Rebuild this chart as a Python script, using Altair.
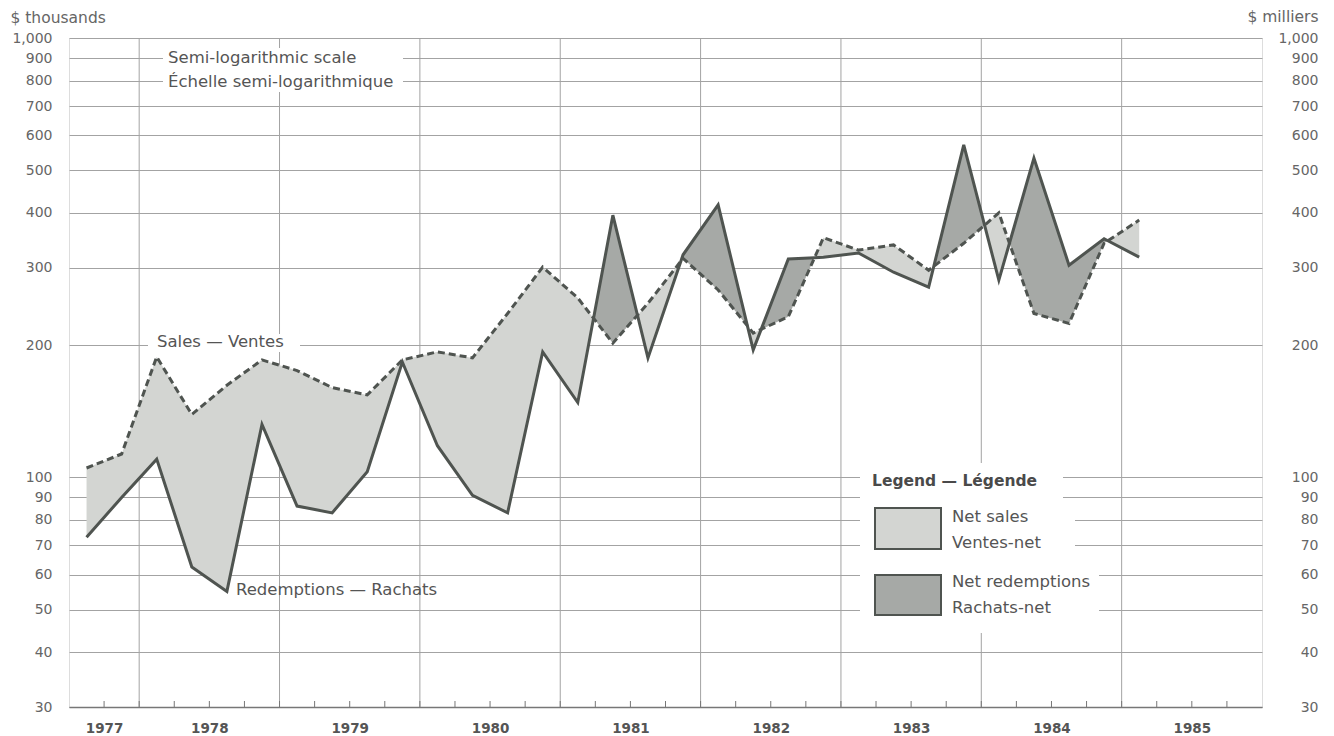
import math
import altair as alt
import pandas as pd
import numpy as np

FONT = "DejaVu Sans"
TXT = "#555555"
LINE = "#4f5450"
LIGHT = "#d3d5d2"
DARK = "#a6a9a6"
GRID = "#a3a3a3"

# ---- data ----
quarters = [
    "1977 Q3", "1977 Q4",
    "1978 Q1", "1978 Q2", "1978 Q3", "1978 Q4",
    "1979 Q1", "1979 Q2", "1979 Q3", "1979 Q4",
    "1980 Q1", "1980 Q2", "1980 Q3", "1980 Q4",
    "1981 Q1", "1981 Q2", "1981 Q3", "1981 Q4",
    "1982 Q1", "1982 Q2", "1982 Q3", "1982 Q4",
    "1983 Q1", "1983 Q2", "1983 Q3", "1983 Q4",
    "1984 Q1", "1984 Q2", "1984 Q3", "1984 Q4",
    "1985 Q1",
]
sales = [105, 113, 188, 139, 162, 185, 175, 160, 154, 185, 193, 187, 236, 301, 256, 202,
         249, 315, 267, 213, 232, 351, 329, 338, 296, 341, 400, 236, 224, 341, 385]
redemptions = [73, 90, 110, 62.5, 55, 132, 86, 83, 103, 183, 118, 91, 83, 193, 148, 395,
               187, 321, 417, 195, 314, 317, 324, 293, 271, 571, 281, 533, 304, 349, 317]
years = [1977, 1978, 1979, 1980, 1981, 1982, 1983, 1984, 1985]
y_ticks = [30, 40, 50, 60, 70, 80, 90, 100, 200, 300, 400, 500, 600, 700, 800, 900, 1000]


def qpos(label):
    y, q = label.split(" Q")
    return int(y) + (int(q) - 1) / 4 + 0.125


xs = [qpos(q) for q in quarters]

# densify with crossing points so that the two fills switch exactly where lines cross
rows = []
n = len(xs)
for i in range(n):
    rows.append({"t": xs[i], "s": sales[i], "r": redemptions[i]})
    if i < n - 1:
        d0 = math.log(sales[i]) - math.log(redemptions[i])
        d1 = math.log(sales[i + 1]) - math.log(redemptions[i + 1])
        if d0 * d1 < 0:
            f = d0 / (d0 - d1)
            tc = xs[i] + f * (xs[i + 1] - xs[i])
            vc = math.exp(math.log(sales[i]) + f * (math.log(sales[i + 1]) - math.log(sales[i])))
            rows.append({"t": tc, "s": vc, "r": vc})
df = pd.DataFrame(rows)
df["lo"] = np.minimum(df["s"], df["r"])

grid_df = pd.DataFrame({"g": years[1:]})
tick_df = pd.DataFrame({"q": [years[0] + 0.75 + k * 0.25 for k in range(33)]})
one = pd.DataFrame({"k": [0]})

W, H = 1193, 669

xscale = alt.Scale(domain=[1977.5, 1986.0], nice=False, zero=False)
yscale = alt.Scale(type="log", domain=[30, 1000], nice=False)

label_vals = [1977.75] + [y + 0.5 for y in years[1:]]
xaxis = alt.Axis(values=label_vals, labelExpr="floor(datum.value)", ticks=False, grid=False,
                 domain=True, domainColor="#777777", domainWidth=1.5, title=None,
                 labelFont=FONT, labelFontSize=13.5, labelFontWeight="bold", labelColor=TXT,
                 labelPadding=14, labelOverlap=False)

left_axis = alt.Axis(orient="left", values=y_ticks, format=",", grid=True, gridColor=GRID,
                     gridWidth=1, ticks=False, tickSize=0, domain=False, labelFont=FONT,
                     labelFontSize=14, labelColor="#666666", labelPadding=17, labelOverlap=False,
                     title="$ thousands", titleAngle=0, titleAlign="left", titleBaseline="middle",
                     titleX=-59, titleY=-21, titleFont=FONT, titleFontSize=15.5,
                     titleFontWeight="normal", titleColor="#666666")
right_axis = alt.Axis(orient="right", values=y_ticks, format=",", grid=False, ticks=False,
                      tickSize=0, domain=False, labelFont=FONT, labelFontSize=14,
                      labelColor="#666666", labelAlign="right", labelPadding=56,
                      labelOverlap=False, title="$ milliers", titleAngle=0, titleAlign="right",
                      titleBaseline="middle", titleX=56, titleY=-22, titleFont=FONT,
                      titleFontSize=15.5, titleFontWeight="normal", titleColor="#666666")

vgrid = alt.Chart(grid_df).mark_rule(color=GRID, strokeWidth=1).encode(
    x=alt.X("g:Q", scale=xscale, axis=xaxis), y=alt.value(0), y2=alt.value(H))


def white(x1, x2, y1, y2):
    return alt.Chart(one).mark_rect(fill="white").encode(
        x=alt.value(x1), x2=alt.value(x2), y=alt.value(y1), y2=alt.value(y2))


whites = [
    white(94, 334, 10, 54),
    white(79, 231, 296, 314),
    white(791, 994, 425, 470),
    white(791, 1006, 470, 520),
    white(791, 1030, 520, 595),
]

base = alt.Chart(df)
area_light = base.mark_area(color=LIGHT, opacity=1).encode(
    x=alt.X("t:Q", scale=xscale, axis=xaxis),
    y=alt.Y("s:Q", scale=yscale, axis=left_axis),
    y2="lo:Q")
area_dark = base.mark_area(color=DARK, opacity=1).encode(
    x=alt.X("t:Q", scale=xscale, axis=xaxis),
    y=alt.Y("r:Q", scale=yscale, axis=None),
    y2="lo:Q")
line_red = base.mark_line(color=LINE, strokeWidth=3, strokeJoin="miter").encode(
    x=alt.X("t:Q", scale=xscale, axis=xaxis),
    y=alt.Y("r:Q", scale=yscale, axis=None))
line_sales = base.mark_line(color=LINE, strokeWidth=3, strokeDash=[7, 4]).encode(
    x=alt.X("t:Q", scale=xscale, axis=xaxis),
    y=alt.Y("s:Q", scale=yscale, axis=right_axis))

ticks = alt.Chart(tick_df).mark_rule(color="#777777", strokeWidth=1).encode(
    x=alt.X("q:Q", scale=xscale, axis=xaxis), y=alt.value(H - 6), y2=alt.value(H))


def label(txt, x, y, size=16.5, weight="normal", color=TXT):
    return alt.Chart(one).mark_text(text=txt, align="left", baseline="middle", font=FONT,
                                    fontSize=size, fontWeight=weight, color=color).encode(
        x=alt.value(x), y=alt.value(y))


def box(y1, y2, fill):
    return alt.Chart(one).mark_rect(fill=fill, stroke=LINE, strokeWidth=2).encode(
        x=alt.value(806), x2=alt.value(872), y=alt.value(y1), y2=alt.value(y2))


texts = [
    label("Semi-logarithmic scale", 99, 20),
    label("Échelle semi-logarithmique", 99, 44),
    label("Sales — Ventes", 88, 304),
    label("Redemptions — Rachats", 167, 552),
    label("Legend — Légende", 803, 443, size=15.5, weight="bold", color="#4a4a4a"),
    box(470, 511, LIGHT),
    box(537, 577, DARK),
    label("Net sales", 883, 479),
    label("Ventes-net", 883, 505),
    label("Net redemptions", 883, 544),
    label("Rachats-net", 883, 570),
]

chart = alt.layer(
    vgrid, *whites, area_light, area_dark, line_red, line_sales, ticks, *texts
).resolve_axis(y="independent").properties(
    width=W, height=H,
    autosize=alt.AutoSizeParams(type="none"),
    padding={"left": 61, "top": 30, "right": 58, "bottom": 28},
).configure_view(stroke="#8c8c8c", strokeWidth=1.2).configure(background="white")

chart.save("out.html", embed_options={"renderer": "svg", "actions": False})
